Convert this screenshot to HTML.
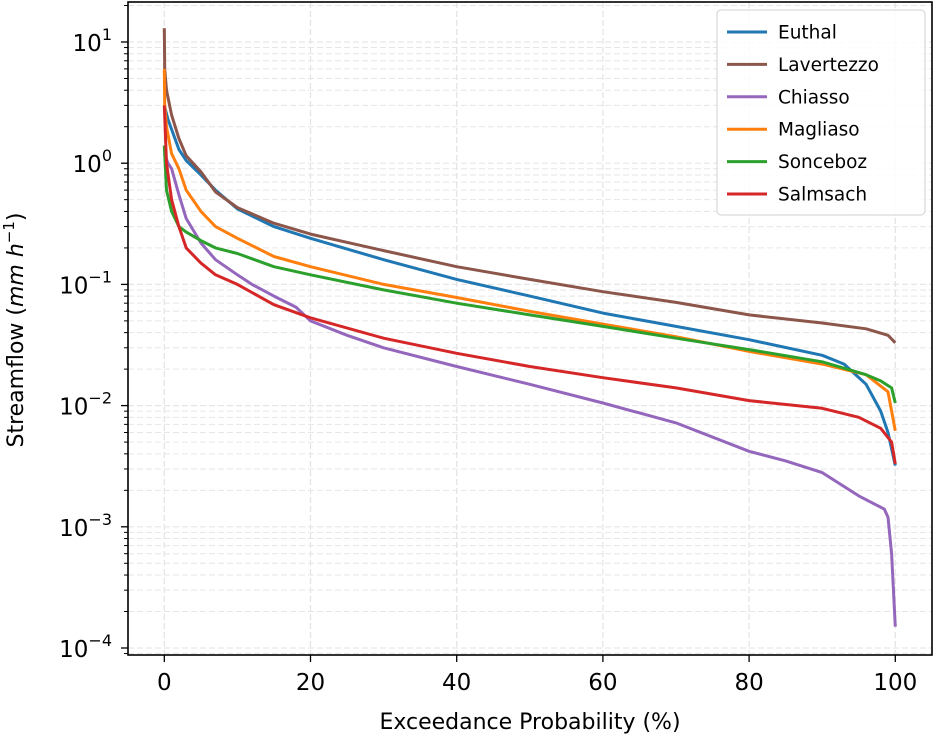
<!DOCTYPE html>
<html><head><meta charset="utf-8"><style>
html,body{margin:0;padding:0;background:#fff;}
svg{display:block;font-family:"DejaVu Sans","Liberation Sans",sans-serif;}
</style></head><body>
<svg id="chart" width="934" height="740" viewBox="0 0 934 740" xmlns="http://www.w3.org/2000/svg">
<g id="grid"></g>
<g id="series"></g>
<rect x="128" y="2" width="804" height="653" fill="none" stroke="#000" stroke-width="1.6"/>
<g id="axes"></g>
<text x="530" y="729" font-size="22" text-anchor="middle">Exceedance Probability (%)</text>
<text transform="translate(23,330) rotate(-90)" font-size="22" text-anchor="middle">Streamflow (<tspan font-style="italic">mm h</tspan><tspan font-size="15" dy="-9">−1</tspan><tspan dy="9">)</tspan></text>
<g id="legend"></g>
</svg>
<script>
const seriesNames = ["Euthal","Lavertezzo","Chiasso","Magliaso","Sonceboz","Salmsach"];
const seriesColors = ["#1f77b4","#8c564b","#9467bd","#ff7f0e","#2ca02c","#d62728"];
const xTicks = [0,20,40,60,80,100];
const yTickExps = [1,0,-1,-2,-3,-4];
const euthalX = [0,0.5,1,2,3,5,7,10,15,20,30,40,50,60,70,80,90,93,96,98,99,100];
const euthalY = [3,2.3,1.9,1.3,1.05,0.8,0.6,0.42,0.3,0.24,0.16,0.11,0.08,0.058,0.045,0.035,0.026,0.022,0.015,0.009,0.006,0.0032];
const lavertezzoX = [0,0.05,0.3,1,2,3,5,7,10,15,20,30,40,50,60,70,80,90,96,99,100];
const lavertezzoY = [13,6,4,2.5,1.6,1.15,0.85,0.58,0.43,0.32,0.26,0.19,0.14,0.11,0.087,0.071,0.056,0.048,0.043,0.038,0.033];
const chiassoX = [0,0.5,1,2,3,5,7,10,12,15,18,20,25,30,40,50,60,70,80,85,90,95,98.5,99,99.5,100];
const chiassoY = [1.2,1.0,0.9,0.55,0.35,0.22,0.16,0.12,0.1,0.08,0.065,0.05,0.038,0.03,0.021,0.015,0.0105,0.0072,0.0042,0.0035,0.0028,0.0018,0.0014,0.0012,0.0006,0.00015];
const magliasoX = [0,0.05,0.3,1,2,3,5,7,10,15,20,30,40,50,60,70,80,90,96,99,100];
const magliasoY = [6,3,2,1.2,0.9,0.6,0.4,0.3,0.24,0.17,0.14,0.1,0.078,0.06,0.047,0.037,0.028,0.022,0.018,0.013,0.0062];
const soncebozX = [0,0.3,1,2,3,5,7,10,15,20,30,40,50,60,70,80,90,96,98,99.5,100];
const soncebozY = [1.4,0.6,0.4,0.3,0.27,0.23,0.2,0.18,0.14,0.12,0.09,0.07,0.056,0.045,0.036,0.029,0.023,0.018,0.016,0.014,0.0105];
const salmsachX = [0,0.3,1,2,3,5,7,10,15,20,30,40,50,60,70,80,90,95,98,99.5,100];
const salmsachY = [3,1.0,0.5,0.3,0.2,0.15,0.12,0.1,0.068,0.053,0.036,0.027,0.021,0.017,0.014,0.011,0.0095,0.008,0.0065,0.005,0.0033];
const allX = [euthalX,lavertezzoX,chiassoX,magliasoX,soncebozX,salmsachX];
const allY = [euthalY,lavertezzoY,chiassoY,magliasoY,soncebozY,salmsachY];
const order = [0,1,2,3,4,5];

const NS="http://www.w3.org/2000/svg";
function xs(v){return 164.3+v*7.31;}
function ys(v){return 42-(Math.log10(v)-1)*121.2;}
function mk(tag,attrs,parent){const e=document.createElementNS(NS,tag);for(const k in attrs)e.setAttribute(k,attrs[k]);parent.appendChild(e);return e;}
const grid=document.getElementById('grid'),axes=document.getElementById('axes'),ser=document.getElementById('series'),leg=document.getElementById('legend');
for(const t of xTicks){
  const gl=mk('line',{x1:xs(t),x2:xs(t),y1:2,y2:655,stroke:'#e3e3e3','stroke-width':1.2,'stroke-dasharray':'6,3'},grid);
  
  
  mk('line',{x1:xs(t),x2:xs(t),y1:655,y2:662,stroke:'#000','stroke-width':1.3},axes);
  const tx=mk('text',{x:xs(t),y:690,'font-size':23,'text-anchor':'middle'},axes);
  tx.textContent=t;
  
  
}
for(let e=-5;e<=1;e++){
  for(let m=1;m<=9;m++){
    const v=m*Math.pow(10,e);const y=ys(v);
    if(y<2||y>655)continue;
    const gl=mk('line',{x1:128,x2:932,y1:y,y2:y,stroke:'#e6e6e6','stroke-width':m===1?1.2:1,'stroke-dasharray':'6,3'},grid);
    
    
    mk('line',{x1:m===1?121:124,x2:128,y1:y,y2:y,stroke:'#000','stroke-width':m===1?1.3:1},axes);
  }
}
for(const e of yTickExps){
  const tx=mk('text',{x:112,y:ys(Math.pow(10,e))+9,'font-size':23,'text-anchor':'end'},axes);
  
  
  tx.innerHTML='10<tspan font-size="16" dy="-11">'+(e<0?'−'+(-e):e)+'</tspan>';
}
for(const i of order){
  const d=allX[i].map((x,j)=>(j?'L':'M')+xs(x).toFixed(1)+','+ys(allY[i][j]).toFixed(1)).join('');
  const p=mk('path',{d:d,fill:'none',stroke:seriesColors[i],'stroke-width':3,'stroke-linejoin':'round'},ser);
  
  
}
const lb=mk('rect',{x:717,y:10,width:208,height:205,rx:4,fill:'#fff','fill-opacity':0.85,stroke:'#d0d0d0','stroke-width':1},leg);


seriesNames.forEach((n,i)=>{
  const y=32+i*32.4;
  const g=mk('g',{},leg);
  
  
  mk('line',{x1:727,x2:767,y1:y,y2:y,stroke:seriesColors[i],'stroke-width':3},g);
  const t=mk('text',{x:778,y:y+6.5,'font-size':18.5},g);
  t.textContent=n;
});
</script>
</body></html>
